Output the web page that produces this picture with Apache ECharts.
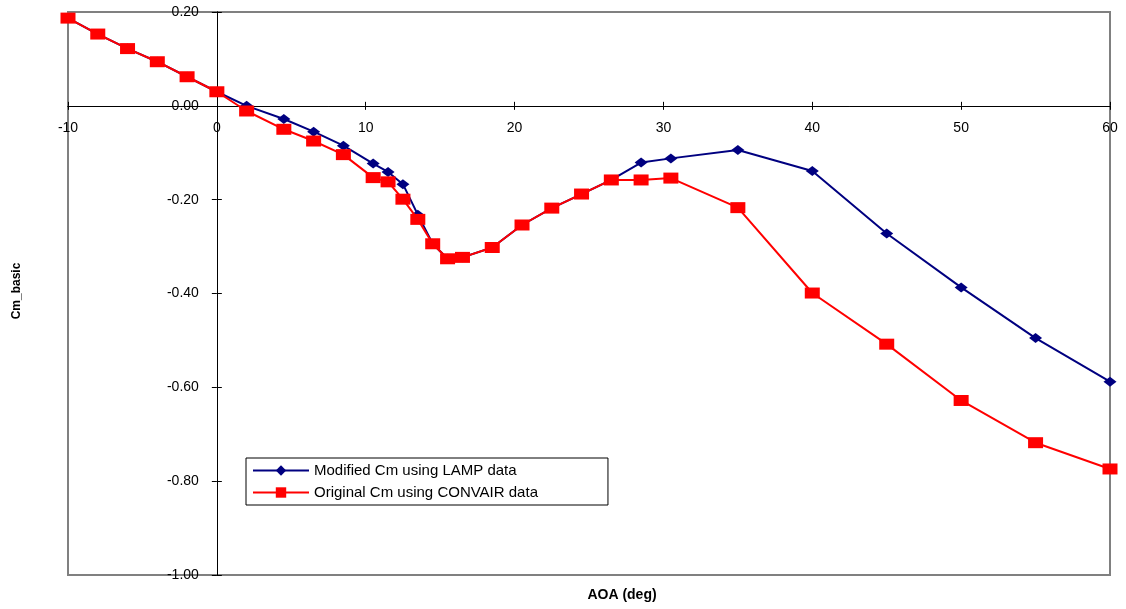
<!DOCTYPE html>
<html>
<head>
<meta charset="utf-8">
<script src="https://cdn.jsdelivr.net/npm/echarts@6/dist/echarts.min.js"></script>
<style>
html,body{margin:0;padding:0;background:#fff;}
#chart{width:1126px;height:609px;}
</style>
</head>
<body>
<div id="chart"></div>
<script>
// ---- Data ----
const seriesNames = ['Modified Cm using LAMP data', 'Original Cm using CONVAIR data'];
const aoa = [-10, -8, -6, -4, -2, 0, 2, 4.5, 6.5, 8.5, 10.5, 11.5, 12.5, 13.5, 14.5, 15.5, 16.5, 18.5, 20.5, 22.5, 24.5, 26.5, 28.5, 30.5, 35, 40, 45, 50, 55, 60];
const cmModified = [0.187, 0.153, 0.122, 0.094, 0.062, 0.030, 0.000, -0.028, -0.055, -0.085, -0.123, -0.141, -0.167, -0.232, -0.294, -0.326, -0.323, -0.302, -0.254, -0.218, -0.188, -0.158, -0.121, -0.112, -0.094, -0.139, -0.272, -0.387, -0.495, -0.588];
const cmOriginal = [0.187, 0.153, 0.122, 0.094, 0.062, 0.030, -0.011, -0.050, -0.075, -0.104, -0.153, -0.162, -0.199, -0.242, -0.294, -0.326, -0.323, -0.302, -0.254, -0.218, -0.188, -0.158, -0.158, -0.154, -0.217, -0.399, -0.508, -0.628, -0.718, -0.774];
const xTitle = 'AOA (deg)';
const yTitle = 'Cm_basic';

const pairs = (xs, ys) => xs.map((x, i) => [x, ys[i]]);
const FONT = '"Liberation Sans", Arial, sans-serif';

const W = 1126, H = 609;
const G = {left: 68, right: 16, top: 12, bottom: 34};
const XMIN = -10, XMAX = 60, YMIN = -1, YMAX = 0.2;
const gw = W - G.left - G.right, gh = H - G.top - G.bottom;
// shift axes from grid edges to the zero crossings
const xAxisOffset = -(gh * (0 - YMIN) / (YMAX - YMIN));
const yAxisOffset = -(gw * (0 - XMIN) / (XMAX - XMIN));

const chart = echarts.init(document.getElementById('chart'), null, {renderer: 'canvas'});

function xAx(primary) {
  return {
    type: 'value', min: XMIN, max: XMAX, interval: 10,
    position: 'bottom', offset: xAxisOffset,
    axisLine: {show: true, onZero: false, lineStyle: {color: '#000', width: 1}},
    axisTick: {show: true, inside: !primary, length: 4, lineStyle: {color: '#000'}},
    axisLabel: {show: primary, margin: 15, color: '#000', fontSize: 14, fontFamily: FONT,
      formatter: v => String(v)},
    splitLine: {show: false}
  };
}
function yAx(primary) {
  return {
    type: 'value', min: YMIN, max: YMAX, interval: 0.2,
    position: 'left', offset: yAxisOffset,
    axisLine: {show: true, onZero: false, lineStyle: {color: '#000', width: 1}},
    axisTick: {show: true, inside: !primary, length: 5, lineStyle: {color: '#000'}},
    axisLabel: {show: primary, margin: 18, color: '#000', fontSize: 14, fontFamily: FONT,
      formatter: v => v.toFixed(2)},
    splitLine: {show: false}
  };
}

chart.setOption({
  animation: false,
  backgroundColor: '#fff',
  grid: {left: G.left, right: G.right, top: G.top, bottom: G.bottom, show: true, borderColor: '#808080', borderWidth: 2, backgroundColor: '#fff'},
  xAxis: [xAx(true), xAx(false)],
  yAxis: [yAx(true), yAx(false)],
  legend: {
    orient: 'vertical', left: 246, top: 458,
    backgroundColor: '#fff', borderColor: '#000', borderWidth: 1,
    padding: [5, 70, 5, 6], itemGap: 7, itemWidth: 56, itemHeight: 13,
    textStyle: {color: '#000', fontSize: 15, fontFamily: FONT},
    data: seriesNames
  },
  graphic: [
    {type: 'text', x: 622, y: 595,
      style: {text: xTitle, font: 'bold 14px ' + FONT, fill: '#000', align: 'center', verticalAlign: 'middle'}},
    {type: 'text', x: 17, y: 291, rotation: Math.PI / 2,
      style: {text: yTitle, font: 'bold 12px ' + FONT, fill: '#000', align: 'center', verticalAlign: 'middle'}}
  ],
  series: [
    {name: seriesNames[0], type: 'line', xAxisIndex: 0, yAxisIndex: 0,
      data: pairs(aoa, cmModified), symbol: 'diamond', symbolSize: [13, 10],
      lineStyle: {color: '#000080', width: 2}, itemStyle: {color: '#000080'}, z: 3},
    {name: seriesNames[1], type: 'line', xAxisIndex: 0, yAxisIndex: 0,
      data: pairs(aoa, cmOriginal), symbol: 'rect', symbolSize: [15, 11],
      lineStyle: {color: '#ff0000', width: 2}, itemStyle: {color: '#ff0000'}, z: 4}
  ]
});
</script>
</body>
</html>
